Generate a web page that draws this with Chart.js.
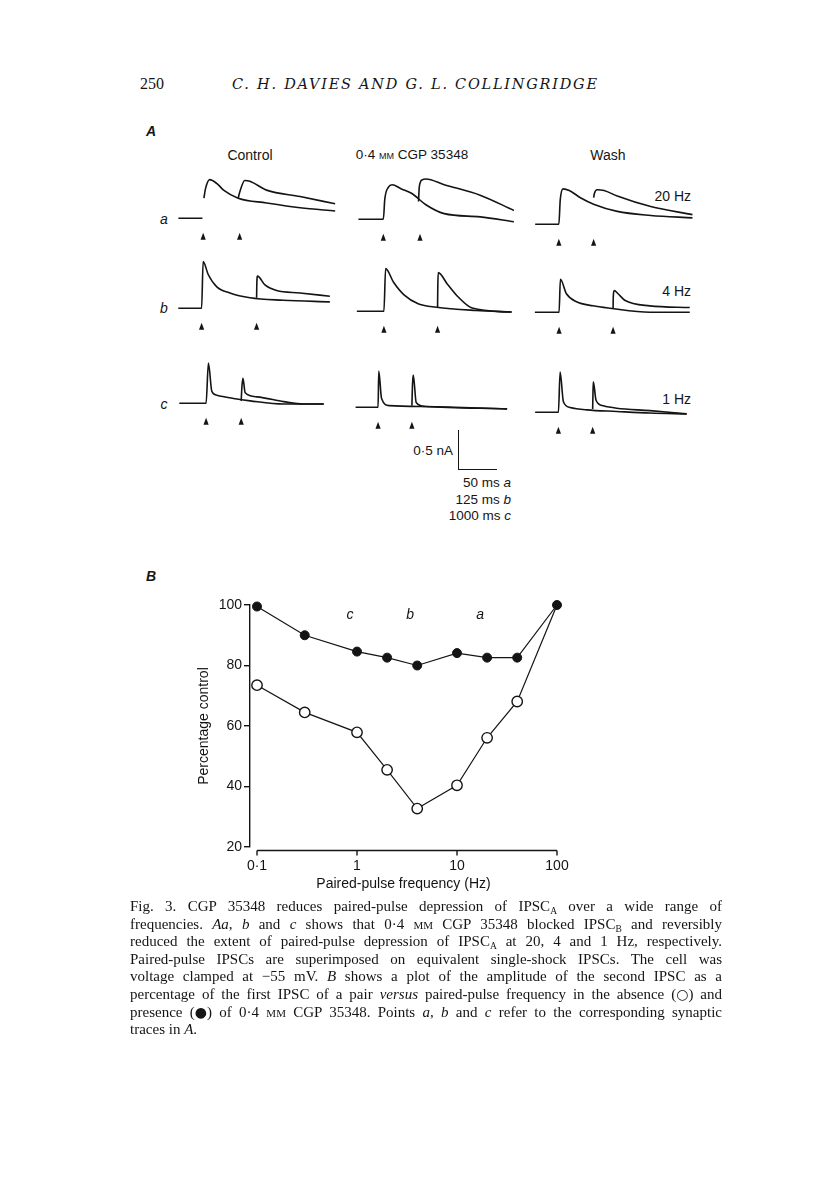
<!DOCTYPE html>
<html><head><meta charset="utf-8">
<script src="https://cdn.jsdelivr.net/npm/chart.js@4.4.1/dist/chart.umd.min.js"></script>
<style>
html,body{margin:0;padding:0;background:#fff;}
body{width:816px;height:1183px;position:relative;overflow:hidden;color:#151515;}
.t{position:absolute;white-space:nowrap;line-height:1;}
.sans{font-family:'Liberation Sans',Arial,Helvetica,sans-serif;}
.serif{font-family:'Liberation Serif','Times New Roman',serif;}
.c{transform:translate(-50%,-50%);}
.r{transform:translate(-100%,-50%);}
.l{transform:translate(0,-50%);}
canvas{position:absolute;}
.cap{position:absolute;left:130px;width:600px;white-space:nowrap;font-family:'Liberation Serif','Times New Roman',serif;font-size:15px;line-height:18px;color:#151515;}
.sub{font-size:9.5px;position:relative;top:3px;}
.sc{font-variant:small-caps;}
.sym{font-family:'DejaVu Sans',sans-serif;font-size:14px;}
.bar{position:absolute;background:#151515;}
</style></head><body>

<div class="t serif l" style="left:140px;top:84px;font-size:16px;">250</div>
<div class="t l" data-fit="365" style="left:232px;top:84px;font-size:14.5px;font-style:italic;font-family:'DejaVu Serif','Liberation Serif',serif;">C. H. DAVIES AND G. L. COLLINGRIDGE</div>

<div class="t sans l" style="left:146px;top:131px;font-size:14px;font-style:italic;font-weight:bold;">A</div>
<div class="t sans c" style="left:250px;top:155px;font-size:14px;">Control</div>
<div class="t sans c" style="left:412px;top:155px;font-size:13.5px;">0·4 <span class="sc">mm</span> CGP 35348</div>
<div class="t sans c" style="left:608px;top:155px;font-size:14px;">Wash</div>

<div class="t sans c" style="left:164px;top:219px;font-size:14px;font-style:italic;">a</div>
<div class="t sans c" style="left:164px;top:308px;font-size:14px;font-style:italic;">b</div>
<div class="t sans c" style="left:164px;top:404px;font-size:14px;font-style:italic;">c</div>
<div class="t sans r" style="left:691px;top:196px;font-size:14px;">20 Hz</div>
<div class="t sans r" style="left:691px;top:291px;font-size:14px;">4 Hz</div>
<div class="t sans r" style="left:691px;top:399px;font-size:14px;">1 Hz</div>

<div class="bar" style="left:457.5px;top:430px;width:1.5px;height:40px;"></div>
<div class="bar" style="left:457.5px;top:468.5px;width:39px;height:1.5px;"></div>
<div class="t sans r" style="left:453px;top:451px;font-size:13.5px;">0·5 nA</div>
<div class="t sans r" style="left:511px;top:483px;font-size:13.5px;">50 ms <i>a</i></div>
<div class="t sans r" style="left:511px;top:499.5px;font-size:13.5px;">125 ms <i>b</i></div>
<div class="t sans r" style="left:511px;top:516px;font-size:13.5px;">1000 ms <i>c</i></div>

<div class="t sans l" style="left:146px;top:576px;font-size:14px;font-style:italic;font-weight:bold;">B</div>

<canvas id="chartB" width="430" height="310" style="left:150px;top:590px;"></canvas>

<div class="cap" style="top:897px;"><span class="ln">Fig. 3. CGP 35348 reduces paired-pulse depression of IPSC<span class="sub">A</span> over a wide range of</span></div>
<div class="cap" style="top:914.6px;"><span class="ln">frequencies. <i>Aa</i>, <i>b</i> and <i>c</i> shows that 0·4 <span class="sc">mm</span> CGP 35348 blocked IPSC<span class="sub">B</span> and reversibly</span></div>
<div class="cap" style="top:932.2px;"><span class="ln">reduced the extent of paired-pulse depression of IPSC<span class="sub">A</span> at 20, 4 and 1 Hz, respectively.</span></div>
<div class="cap" style="top:949.8px;"><span class="ln">Paired-pulse IPSCs are superimposed on equivalent single-shock IPSCs. The cell was</span></div>
<div class="cap" style="top:967.4px;"><span class="ln">voltage clamped at −55 mV. <i>B</i> shows a plot of the amplitude of the second IPSC as a</span></div>
<div class="cap" style="top:985px;"><span class="ln">percentage of the first IPSC of a pair <i>versus</i> paired-pulse frequency in the absence (<span class="sym">○</span>) and</span></div>
<div class="cap" style="top:1002.6px;"><span class="ln">presence (<span class="sym">●</span>) of 0·4 <span class="sc">mm</span> CGP 35348. Points <i>a</i>, <i>b</i> and <i>c</i> refer to the corresponding synaptic</span></div>
<div class="cap last" style="top:1020.2px;"><span>traces in <i>A</i>.</span></div>

<script>
// ---------------- Panel B data ----------------
const freqHz = [0.1, 0.3, 1, 2, 4, 10, 20, 40, 100];
const pctWithCGP = [99.5, 90, 84.6, 82.6, 80, 84.1, 82.6, 82.6, 100];
const pctControl = [73.5, 64.5, 57.9, 45.5, 32.7, 40.4, 56.1, 68.1, 100];
const xTickValues = [0.1, 1, 10, 100];
const xTickLabels = ['0·1', '1', '10', '100'];
const yTickValues = [20, 40, 60, 80, 100];
const traceLetters = ['c', 'b', 'a'];
const traceLetterHz = [1, 4, 20];

// ---------------- Panel A data (time in ms from first stimulus, current in nA) ----------------
const stimA = [0, 50];
const aCtrlSingleT = [-34, -1, 0, 1, 3, 9, 19, 28, 48, 87, 133, 181];
const aCtrlSingleI = [0, 0, null, 0.25, 0.36, 0.48, 0.43, 0.35, 0.25, 0.19, 0.13, 0.09];
const aCtrlPairedT = [48, 50, 57, 64, 87, 133, 181];
const aCtrlPairedI = [0.25, 0.32, 0.47, 0.46, 0.35, 0.27, 0.18];
const aCgpSingleT = [-34, -1, 0, 2, 7, 12, 24, 39, 58, 83, 132, 178];
const aCgpSingleI = [0, 0, 0, 0.25, 0.40, 0.43, 0.38, 0.32, 0.18, 0.07, 0.03, -0.03];
const aCgpPairedT = [48, 49, 53, 58, 83, 132, 178];
const aCgpPairedI = [0.22, 0.40, 0.49, 0.50, 0.43, 0.30, 0.11];
const aWashSingleT = [-34, -1, 0, 2, 6, 15, 31, 50, 84, 132, 192];
const aWashSingleI = [0, 0, 0, 0.30, 0.44, 0.42, 0.33, 0.25, 0.16, 0.11, 0.08];
const aWashPairedT = [50, 51, 55, 65, 84, 132, 192];
const aWashPairedI = [0.33, 0.38, 0.43, 0.42, 0.35, 0.22, 0.12];

const stimB = [0, 250];
const bCtrlSingleT = [-106, -2, 0, 7, 30, 68, 129, 220, 371, 583];
const bCtrlSingleI = [0, 0, 0, 0.58, 0.42, 0.27, 0.19, 0.13, 0.10, 0.08];
const bCtrlPairedT = [250, 251, 254, 288, 341, 447, 583];
const bCtrlPairedI = [0.13, 0.30, 0.40, 0.29, 0.22, 0.19, 0.15];
const bCgpSingleT = [-126, -2, 0, 8, 45, 95, 162, 245, 428, 595];
const bCgpSingleI = [0, 0, 0, 0.53, 0.36, 0.20, 0.09, 0.05, 0.01, -0.01];
const bCgpPairedT = [250, 251, 253, 295, 345, 411, 595];
const bCgpPairedI = [0.05, 0.30, 0.48, 0.34, 0.18, 0.04, -0.01];
const bWashSingleT = [-112, -3, 0, 6, 34, 81, 157, 235, 420, 605];
const bWashSingleI = [0, 0, 0, 0.41, 0.23, 0.13, 0.08, 0.05, 0, 0];
const bWashPairedT = [250, 251, 255, 273, 304, 420, 605];
const bWashPairedI = [0.05, 0.20, 0.27, 0.23, 0.15, 0.08, 0.06];

const stimC = [0, 1000];
const cCtrlSingleT = [-763, -14, 0, 66, 163, 306, 780, 1257, 2209, 3351];
const cCtrlSingleI = [0, 0, 0, 0.50, 0.15, 0.10, 0.06, 0.03, -0.01, -0.01];
const cCtrlPairedT = [1000, 1020, 1049, 1114, 1449, 2209, 2780, 3351];
const cCtrlPairedI = [0.03, 0.20, 0.31, 0.13, 0.08, 0.02, -0.01, -0.01];
const cCgpSingleT = [-664, -18, 0, 21, 103, 336, 1389, 3814];
const cCgpSingleI = [0, 0, 0, 0.45, 0.11, 0.02, 0.01, -0.02];
const cCgpPairedT = [1000, 1020, 1041, 1127, 1389, 3814];
const cCgpPairedI = [0.02, 0.30, 0.40, 0.06, 0.01, -0.02];
const cWashSingleT = [-679, -9, 0, 50, 146, 341, 828, 1702, 2673, 3743];
const cWashSingleI = [0, 0, 0, 0.50, 0.13, 0.06, 0.03, 0.01, -0.01, -0.02];
const cWashPairedT = [1000, 1010, 1020, 1099, 1312, 1702, 2673, 3743];
const cWashPairedI = [0.04, 0.25, 0.38, 0.15, 0.08, 0.05, 0.02, -0.02];

// ---------------- layout (positions only) ----------------
const INK = '#141414';
const SANS = "'Liberation Sans', Arial, Helvetica, sans-serif";
const PX_PER_NA = 80;
const V_MIN = -0.32, V_MAX = 0.65;
const rowRange = { a: [-40, 200], b: [-130, 620], c: [-800, 3900] };
const rowStim = { a: stimA, b: stimB, c: stimC };
const panels = [
  { row: 'a', x0: 203,   p: 0.73,   yb: 218.3, s: [aCtrlSingleT, aCtrlSingleI], d: [aCtrlPairedT, aCtrlPairedI] },
  { row: 'a', x0: 382.9, p: 0.732,  yb: 219,   s: [aCgpSingleT, aCgpSingleI],   d: [aCgpPairedT, aCgpPairedI] },
  { row: 'a', x0: 558.3, p: 0.694,  yb: 224.3, s: [aWashSingleT, aWashSingleI], d: [aWashPairedT, aWashPairedI] },
  { row: 'b', x0: 201.7, p: 0.22,   yb: 308.3, s: [bCtrlSingleT, bCtrlSingleI], d: [bCtrlPairedT, bCtrlPairedI] },
  { row: 'b', x0: 383.9, p: 0.2144, yb: 310.7, s: [bCgpSingleT, bCgpSingleI],   d: [bCgpPairedT, bCgpPairedI] },
  { row: 'b', x0: 559.3, p: 0.216,  yb: 311.7, s: [bWashSingleT, bWashSingleI], d: [bWashPairedT, bWashPairedI] },
  { row: 'c', x0: 206,   p: 0.035,  yb: 403.3, s: [cCtrlSingleT, cCtrlSingleI], d: [cCtrlPairedT, cCtrlPairedI] },
  { row: 'c', x0: 378.6, p: 0.0339, yb: 406.7, s: [cCgpSingleT, cCgpSingleI],   d: [cCgpPairedT, cCgpPairedI] },
  { row: 'c', x0: 558.3, p: 0.0343, yb: 411.7, s: [cWashSingleT, cWashSingleI], d: [cWashPairedT, cWashPairedI] }
];

const zip = (t, v) => t.map((x, i) => ({ x: x, y: v[i] }));

const stimPlugin = {
  id: 'stim',
  afterDraw(chart, args, opts) {
    const ctx = chart.ctx, xs = chart.scales.x, ys = chart.scales.y;
    const y0 = ys.getPixelForValue(0);
    ctx.save();
    ctx.fillStyle = INK;
    opts.times.forEach(t => {
      const x = xs.getPixelForValue(t);
      ctx.beginPath();
      ctx.moveTo(x, y0 + 14.5);
      ctx.lineTo(x - 2.6, y0 + 21.5);
      ctx.lineTo(x + 2.6, y0 + 21.5);
      ctx.closePath();
      ctx.fill();
    });
    ctx.restore();
  }
};

panels.forEach(pn => {
  const [tmin, tmax] = rowRange[pn.row];
  const cv = document.createElement('canvas');
  const w = Math.round((tmax - tmin) * pn.p);
  const h = Math.round((V_MAX - V_MIN) * PX_PER_NA);
  cv.width = w; cv.height = h;
  cv.style.left = (pn.x0 + tmin * pn.p) + 'px';
  cv.style.top = (pn.yb - V_MAX * PX_PER_NA) + 'px';
  document.body.appendChild(cv);
  const common = { borderColor: INK, borderWidth: 1.6, pointRadius: 0, fill: false,
                   cubicInterpolationMode: 'monotone', spanGaps: false };
  new Chart(cv, {
    type: 'line',
    data: { datasets: [
      Object.assign({ data: zip(pn.s[0], pn.s[1]) }, common),
      Object.assign({ data: zip(pn.d[0], pn.d[1]) }, common)
    ] },
    options: {
      responsive: false, animation: false, events: [], devicePixelRatio: 1,
      layout: { padding: 0 },
      plugins: { legend: { display: false }, tooltip: { enabled: false }, stim: { times: rowStim[pn.row] } },
      scales: {
        x: { type: 'linear', min: tmin, max: tmax, display: false },
        y: { type: 'linear', min: V_MIN, max: V_MAX, display: false }
      }
    },
    plugins: [stimPlugin]
  });
});

// ---------------- Panel B chart ----------------
const axisPlugin = {
  id: 'axisB',
  afterDraw(chart) {
    const ctx = chart.ctx, xs = chart.scales.x, ys = chart.scales.y, ca = chart.chartArea;
    const y = ca.bottom + 3.5;
    ctx.save();
    ctx.strokeStyle = INK; ctx.lineWidth = 1.4;
    ctx.beginPath();
    ctx.moveTo(xs.getPixelForValue(xTickValues[0]), y);
    ctx.lineTo(xs.getPixelForValue(xTickValues[xTickValues.length - 1]), y);
    xTickValues.forEach(v => {
      const x = xs.getPixelForValue(v);
      ctx.moveTo(x, y);
      ctx.lineTo(x, y + 5);
    });
    ctx.stroke();
    ctx.fillStyle = INK;
    ctx.font = "italic 14px " + SANS;
    ctx.textAlign = 'center'; ctx.textBaseline = 'middle';
    traceLetters.forEach((s, i) => {
      ctx.fillText(s, xs.getPixelForValue(traceLetterHz[i]) - 7, ys.getPixelForValue(96.7));
    });
    ctx.restore();
  }
};

new Chart(document.getElementById('chartB'), {
  type: 'line',
  data: { datasets: [
    { label: '0·4 mM CGP 35348', data: zip(freqHz, pctWithCGP), borderColor: INK, borderWidth: 1.2,
      pointRadius: 4.5, pointBackgroundColor: INK, pointBorderColor: INK, pointBorderWidth: 1,
      tension: 0, clip: false },
    { label: 'Control', data: zip(freqHz, pctControl), borderColor: INK, borderWidth: 1.2,
      pointRadius: freqHz.map((f, i) => i === freqHz.length - 1 ? 0 : 5.2),
      pointBackgroundColor: '#fff', pointBorderColor: INK, pointBorderWidth: 1.4,
      tension: 0, clip: false }
  ] },
  options: {
    responsive: false, animation: false, events: [], devicePixelRatio: 1,
    layout: { padding: { left: 0, right: 23, top: 15, bottom: 0 } },
    plugins: { legend: { display: false }, tooltip: { enabled: false } },
    scales: {
      x: {
        type: 'logarithmic', min: 0.0851, max: 100,
        grid: { display: false }, border: { display: false },
        afterBuildTicks: s => { s.ticks = xTickValues.map(v => ({ value: v })); },
        afterFit: s => { s.height = 53; },
        ticks: { autoSkip: false, maxRotation: 0, padding: 3, color: INK, font: { family: SANS, size: 14 },
                 callback: v => { const i = xTickValues.indexOf(v); return i >= 0 ? xTickLabels[i] : ''; } },
        title: { display: true, text: 'Paired-pulse frequency (Hz)', color: INK,
                 font: { family: SANS, size: 14 }, padding: { top: 0, bottom: 7 } }
      },
      y: {
        type: 'linear', min: 20, max: 100,
        afterBuildTicks: s => { s.ticks = yTickValues.map(v => ({ value: v })); },
        afterFit: s => { s.width = 100; },
        grid: { display: true, drawOnChartArea: false, drawTicks: true, tickLength: 6, color: INK, lineWidth: 1.4 },
        border: { display: true, color: INK, width: 1.4 },
        ticks: { padding: 2, color: INK, font: { family: SANS, size: 14 } },
        title: { display: true, text: 'Percentage control', color: INK,
                 font: { family: SANS, size: 14 }, padding: { top: 46, bottom: 0 } }
      }
    }
  },
  plugins: [axisPlugin]
});

// fit header width
document.querySelectorAll('[data-fit]').forEach(el => {
  const target = parseFloat(el.dataset.fit);
  const w = el.getBoundingClientRect().width;
  const n = el.textContent.length;
  el.style.letterSpacing = ((target - w) / (n - 1)) + 'px';
});
// justify caption lines to the text width
const CAP_W = 592;
document.querySelectorAll('.cap .ln').forEach(ln => {
  const w = ln.getBoundingClientRect().width;
  const n = (ln.textContent.match(/ /g) || []).length;
  if (n > 0) ln.style.wordSpacing = ((CAP_W - w) / n) + 'px';
});
</script>
</body></html>
